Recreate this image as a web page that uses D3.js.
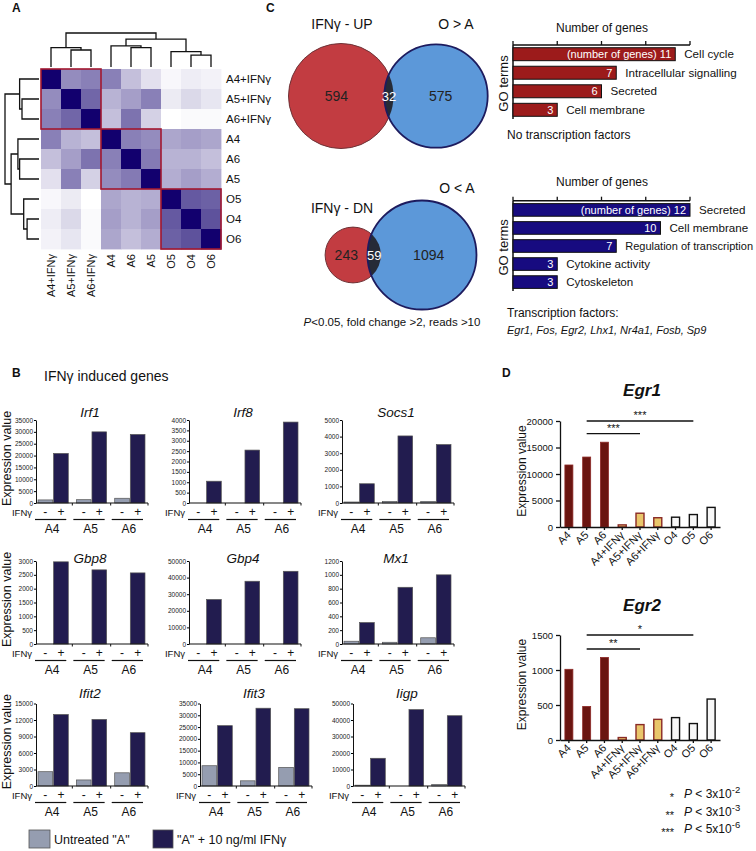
<!DOCTYPE html>
<html><head><meta charset="utf-8">
<script src="https://cdn.jsdelivr.net/npm/d3@7"></script>
<style>body{margin:0;background:#fff}svg{display:block;font-family:"Liberation Sans",Arial,Helvetica,sans-serif}</style>
</head><body><svg id="c" width="756" height="851"></svg>
<script>
// ---------------- DATA ----------------
const heatLabels = ["A4+IFNγ","A5+IFNγ","A6+IFNγ","A4","A6","A5","O5","O4","O6"];
const heatValues = [
 [1.00,0.45,0.50,0.50,0.25,0.12,0.03,0.07,0.05],
 [0.45,1.00,0.60,0.30,0.38,0.50,0.08,0.15,0.10],
 [0.50,0.60,1.00,0.25,0.55,0.18,0.00,0.02,0.02],
 [0.50,0.30,0.25,1.00,0.50,0.45,0.35,0.38,0.35],
 [0.25,0.38,0.55,0.50,1.00,0.52,0.30,0.30,0.25],
 [0.12,0.50,0.18,0.45,0.52,1.00,0.32,0.38,0.32],
 [0.03,0.08,0.00,0.35,0.30,0.32,1.00,0.65,0.62],
 [0.07,0.15,0.02,0.38,0.30,0.38,0.65,1.00,0.68],
 [0.05,0.10,0.02,0.35,0.25,0.32,0.62,0.68,1.00]];
const heatClusters = [[0,2],[3,5],[6,8]];
const dendroTree = {h:1.0, children:[
  {h:0.57, children:[{leaf:0},{h:0.50, children:[{leaf:1},{leaf:2}]}]},
  {h:0.82, children:[
    {h:0.62, children:[{leaf:3},{h:0.57, children:[{leaf:4},{leaf:5}]}]},
    {h:0.45, children:[{leaf:6},{h:0.35, children:[{leaf:7},{leaf:8}]}]}]}]};

const vennUpLabels = ["IFNγ - UP","O > A"];
const vennUpCounts = [594,32,575];
const vennDnLabels = ["IFNγ - DN","O < A"];
const vennDnCounts = [243,59,1094];
const goTicks = [0,3,6,9,12];
const goUpTerms = ["Cell cycle","Intracellular signalling","Secreted","Cell membrane"];
const goUpCounts = [11,7,6,3];
const goDnTerms = ["Secreted","Cell membrane","Regulation of transcription","Cytokine activity","Cytoskeleton"];
const goDnCounts = [12,10,7,3,3];
const tfGenes = ["Egr1","Fos","Egr2","Lhx1","Nr4a1","Fosb","Sp9"];

const bGenes = ["Irf1","Irf8","Socs1","Gbp8","Gbp4","Mx1","Ifit2","Ifit3","Iigp"];
const bMax  = [35000,4000,5000,3000,50000,1200,15000,35000,50000];
const bStep = [5000,500,1000,500,10000,200,3000,5000,10000];
const bSamples = ["A4","A5","A6"];
const bUntreated = [[1300,1400,2000],[0,0,0],[60,90,90],[0,0,0],[0,0,0],[40,25,90],[2600,1100,2400],[8600,2200,7900],[500,0,900]];
const bTreated = [[20900,30000,28900],[1050,2550,3900],[1160,4040,3520],[2970,2680,2570],[26800,37800,43800],[310,820,1000],[13000,12100,9700],[25600,33000,32800],[16800,46300,42600]];

const egrCats = ["A4","A5","A6","A4+IFNγ","A5+IFNγ","A6+IFNγ","O4","O5","O6"];
const egrGroups = ["A","A","A","I","I","I","O","O","O"];
const egr1Vals = [11700,13200,16000,400,2600,1750,1850,2350,3700];
const egr2Vals = [1010,480,1180,35,220,295,320,235,585];
const egr1Ticks = [0,5000,10000,15000,20000];
const egr2Ticks = [0,500,1000,1500];
const egr1Sig = [["A5","O5",20000,"***"],["A5","A5+IFNγ",17600,"***"]];
const egr2Sig = [["A5","O5",1500,"*"],["A5","A5+IFNγ",1300,"**"]];
const pStars = ["*","**","***"];
const pBase = ["3x10","3x10","5x10"];
const pExp = ["-2","-3","-6"];

// ---------------- DRAW ----------------
const svg = d3.select("#c");
svg.append("rect").attr("width",756).attr("height",851).attr("fill","#fff");
function T(g,x,y,s,o={}){
  const t=g.append("text").attr("x",x).attr("y",y).text(s)
   .attr("font-size",o.size||12).attr("fill",o.fill||"#111")
   .attr("text-anchor",o.anchor||"start");
  if(o.weight) t.attr("font-weight",o.weight);
  if(o.style) t.attr("font-style",o.style);
  if(o.dy) t.attr("dy",o.dy);
  if(o.transform) t.attr("transform",o.transform);
  return t;
}
// panel letters
T(svg,12,12,"A",{size:12,weight:"bold"});
T(svg,266,12,"C",{size:12,weight:"bold"});
T(svg,12,377,"B",{size:12,weight:"bold"});
T(svg,502,377,"D",{size:12,weight:"bold"});

// ---- Panel A heatmap ----
const gA = svg.append("g");
const hx = d3.scaleBand().domain(d3.range(9)).range([41,221]);
const hy = d3.scaleBand().domain(d3.range(9)).range([69,249]);
const hColor = d3.scaleLinear().domain([0,1]).range(["#ffffff","#12006e"]);
heatValues.forEach((row,i)=>row.forEach((v,j)=>{
  gA.append("rect").attr("x",hx(j)).attr("y",hy(i))
    .attr("width",hx.bandwidth()+0.4).attr("height",hy.bandwidth()+0.4).attr("fill",hColor(v));
}));
heatClusters.forEach(([a,b])=>{
  gA.append("rect").attr("x",hx(a)).attr("y",hy(a))
   .attr("width",hx(b)+hx.bandwidth()-hx(a)).attr("height",hy(b)+hy.bandwidth()-hy(a))
   .attr("fill","none").attr("stroke","#a3172f").attr("stroke-width",1.6);
});
heatLabels.forEach((l,i)=>{
  T(gA,226,hy(i)+hy.bandwidth()/2,l,{size:11.5,dy:"0.35em"});
  T(gA,0,0,l,{size:11,anchor:"end",dy:"0.35em",transform:`translate(${hx(i)+hx.bandwidth()/2},254) rotate(-90)`});
});
// dendrograms
const root = d3.hierarchy(dendroTree);
root.eachAfter(n=>{
  if(!n.children){n.pos=n.data.leaf;n.hh=0;}
  else{n.pos=(n.children[0].pos+n.children[n.children.length-1].pos)/2;n.hh=n.data.h;}
});
const pX = p=>hx(0)+hx.step()*(p+0.5);
const pY = p=>hy(0)+hy.step()*(p+0.5);
const topH = d3.scaleLinear().domain([0,1]).range([67,33]);
const leftH = d3.scaleLinear().domain([0,1]).range([39,5]);
root.each(n=>{
  if(!n.children) return;
  const [c0,c1]=n.children;
  gA.append("path").attr("d",`M${pX(c0.pos)},${topH(c0.hh)}V${topH(n.hh)}H${pX(c1.pos)}V${topH(c1.hh)}`)
    .attr("fill","none").attr("stroke","#111").attr("stroke-width",1.3);
  gA.append("path").attr("d",`M${leftH(c0.hh)},${pY(c0.pos)}H${leftH(n.hh)}V${pY(c1.pos)}H${leftH(c1.hh)}`)
    .attr("fill","none").attr("stroke","#111").attr("stroke-width",1.3);
});

// ---- Panel C venns ----
function venn(counts,c1,c2,cy,rs,key){
  const g=svg.append("g");
  const r1=rs(counts[0]+counts[1]), r2=rs(counts[1]+counts[2]);
  const id="clip"+key;
  g.append("clipPath").attr("id",id).append("circle").attr("cx",c2).attr("cy",cy).attr("r",r2);
  g.append("circle").attr("cx",c1).attr("cy",cy).attr("r",r1).attr("fill","#c23c41").attr("stroke","#6e3236").attr("stroke-width",1);
  g.append("circle").attr("cx",c2).attr("cy",cy).attr("r",r2).attr("fill","#5c98d9");
  g.append("circle").attr("cx",c1).attr("cy",cy).attr("r",r1).attr("fill","#262b37").attr("clip-path",`url(#${id})`);
  g.append("circle").attr("cx",c2).attr("cy",cy).attr("r",r2).attr("fill","none").attr("stroke","#1d1b5e").attr("stroke-width",1.8);
  const lx=(c1-r1+c2-r2)/2, mx=(c2-r2+c1+r1)/2, rx=(c1+r1+c2+r2)/2;
  T(g,lx,cy+5,counts[0],{size:14,anchor:"middle",fill:"#222"});
  T(g,mx,cy+5,counts[1],{size:13,anchor:"middle",fill:"#fff"});
  T(g,rx,cy+5,counts[2],{size:14,anchor:"middle",fill:"#222"});
}
venn(vennUpCounts,341,436,96,d3.scaleSqrt().domain([0,626]).range([0,52.5]),0);
T(svg,342,29,vennUpLabels[0],{size:14,anchor:"middle"});
T(svg,456,29,vennUpLabels[1],{size:14,anchor:"middle"});
venn(vennDnCounts,353,422,255,d3.scaleSqrt().domain([0,1153]).range([0,54.5]),1);
T(svg,342,213,vennDnLabels[0],{size:14,anchor:"middle"});
T(svg,457,193,vennDnLabels[1],{size:14,anchor:"middle"});
const pl=T(svg,392,326,"",{size:11.5,anchor:"middle"});
pl.append("tspan").attr("font-style","italic").text("P");
pl.append("tspan").text("<0.05, fold change >2, reads >10");

// ---- Panel C GO bars ----
const goX = d3.scaleLinear().domain([0,12]).range([513,690]);
function goChart(terms,counts,axisY,r0,r1,fill,titleY){
  const g=svg.append("g");
  const yb=d3.scaleBand().domain(terms).range([r0,r1]).paddingInner(0.3).paddingOuter(0.2);
  T(g,602,titleY,"Number of genes",{size:12,anchor:"middle"});
  g.append("line").attr("x1",goX(0)).attr("x2",goX(12)).attr("y1",axisY).attr("y2",axisY).attr("stroke","#111").attr("stroke-width",1.5);
  goTicks.forEach(t=>g.append("line").attr("x1",goX(t)).attr("x2",goX(t)).attr("y1",axisY).attr("y2",axisY-4).attr("stroke","#111").attr("stroke-width",1.3));
  g.append("line").attr("x1",goX(0)).attr("x2",goX(0)).attr("y1",axisY).attr("y2",r1-1).attr("stroke","#111").attr("stroke-width",1.5);
  terms.forEach((t,i)=>{
    const y=yb(t), v=counts[i];
    g.append("rect").attr("x",goX(0)).attr("y",y).attr("width",goX(v)-goX(0)).attr("height",yb.bandwidth())
     .attr("fill",fill).attr("stroke","#111").attr("stroke-width",1);
    T(g,goX(v)-4,y+yb.bandwidth()/2,(i===0?"(number of genes) ":"")+v,{size:11,anchor:"end",fill:"#fff",dy:"0.36em"});
    const lx=goX(v)+9;
    const lab=T(g,lx,y+yb.bandwidth()/2,t,{size:11.6,dy:"0.36em"});
    const w=lab.node().getComputedTextLength();
    if(lx+w>753) lab.attr("font-size",11.6*(753-lx)/w);
  });
  T(g,0,0,"GO terms",{size:13,anchor:"middle",transform:`translate(508,${(axisY+r1)/2+1}) rotate(-90)`});
}
goChart(goUpTerms,goUpCounts,45,44,120,"#9c1b1b",32);
T(svg,507,139,"No transcription factors",{size:12});
goChart(goDnTerms,goDnCounts,200.7,200,292,"#170b80",186);
T(svg,507,317,"Transcription factors:",{size:12});
T(svg,507,334,tfGenes.join(", "),{size:11,style:"italic"});

// ---- Panel B ----
const bPanelX=[36,189,342,36,189,342,36,200,353];
const bTop=[420,561,703.5], bBot=[503,644,786], bTitleY=[417,563,698];
const bW=112;
T(svg,44,381,"IFNγ induced genes",{size:14});
bGenes.forEach((gene,k)=>{
  const row=Math.floor(k/3), col=k%3, x0=bPanelX[k], top=bTop[row], bot=bBot[row];
  const g=svg.append("g");
  const y=d3.scaleLinear().domain([0,bMax[k]]).range([bot,top]);
  const gx=d3.scaleBand().domain(bSamples).range([x0+2,x0+109]).paddingInner(0.21);
  const ix=d3.scaleBand().domain(["-","+"]).range([0,gx.bandwidth()]).paddingInner(0.06);
  bSamples.forEach((s,j)=>{
    [["-",bUntreated[k][j],"#959db0"],["+",bTreated[k][j],"#221c4f"]].forEach(([c,v,f])=>{
      if(v<=0) return;
      g.append("rect").attr("x",gx(s)+ix(c)).attr("y",y(v)).attr("width",ix.bandwidth()).attr("height",bot-y(v))
       .attr("fill",f).attr("stroke","#555").attr("stroke-width",0.7);
    });
  });
  const ax=g.append("g").attr("transform",`translate(${x0},0)`)
    .call(d3.axisLeft(y).tickValues(d3.range(0,bMax[k]+1,bStep[k])).tickSize(2).tickSizeOuter(0).tickFormat(d3.format("d")));
  ax.selectAll("text").attr("font-size",6.5).attr("font-family","Liberation Sans, Arial").attr("fill","#222").attr("x",-3);
  ax.select(".domain").attr("stroke","#111");
  g.append("line").attr("x1",x0).attr("x2",x0+bW).attr("y1",bot).attr("y2",bot).attr("stroke","#111").attr("stroke-width",1.2);
  const gap=gx.step()-gx.bandwidth();
  bSamples.forEach(s=>{
    const bx=Math.min(gx(s)+gx.bandwidth()+gap/2,x0+bW);
    g.append("line").attr("x1",bx).attr("x2",bx).attr("y1",bot).attr("y2",bot+2.5).attr("stroke","#111");
    T(g,gx(s)+ix("-")+ix.bandwidth()/2,bot+13,"-",{size:12,anchor:"middle"});
    T(g,gx(s)+ix("+")+ix.bandwidth()/2,bot+13,"+",{size:12,anchor:"middle"});
    g.append("line").attr("x1",gx(s)-3).attr("x2",gx(s)+gx.bandwidth()-2).attr("y1",bot+16.5).attr("y2",bot+16.5).attr("stroke","#111").attr("stroke-width",1.2);
    T(g,gx(s)+gx.bandwidth()/2-1,bot+30,s,{size:12,anchor:"middle"});
  });
  T(g,x0-4,bot+13,"IFNγ",{size:9.5,anchor:"end"});
  T(g,x0+bW/2-2,bTitleY[row],gene,{size:13.5,anchor:"middle",style:"italic"});
  if(col===0) T(g,0,0,"Expression value",{size:12.5,anchor:"middle",transform:`translate(11,${(top+bot)/2-3}) rotate(-90)`});
});
// legend B
svg.append("rect").attr("x",29).attr("y",830).attr("width",21).attr("height",18).attr("fill","#959db0").attr("stroke","#555").attr("stroke-width",0.8);
T(svg,54,844,'Untreated "A"',{size:12.5});
svg.append("rect").attr("x",153).attr("y",830).attr("width",20).attr("height",18).attr("fill","#221c4f").attr("stroke","#555").attr("stroke-width",0.8);
T(svg,177,844,'"A" + 10 ng/ml IFNγ',{size:12.5});

// ---- Panel D ----
const dX=d3.scaleBand().domain(egrCats).range([560,720]).paddingInner(0.55).paddingOuter(0.275);
const dFill={A:"#6a1510",I:"#e9c66b",O:"#f7f7f7"};
const dStroke={A:"#8e2a27",I:"#8a2a25",O:"#111"};
function egrChart(title,vals,ticks,titleY,top,bot,sig){
  const g=svg.append("g");
  const y=d3.scaleLinear().domain([0,ticks[ticks.length-1]]).range([bot,top]);
  T(g,642,titleY,title,{size:17,anchor:"middle",weight:"bold",style:"italic"});
  egrCats.forEach((c,i)=>{
    const grp=egrGroups[i];
    g.append("rect").attr("x",dX(c)).attr("y",y(vals[i])).attr("width",dX.bandwidth()).attr("height",bot-y(vals[i]))
     .attr("fill",dFill[grp]).attr("stroke",dStroke[grp]).attr("stroke-width",grp==="A"?0.8:1.4);
  });
  const ax=g.append("g").attr("transform","translate(560,0)").call(d3.axisLeft(y).tickValues(ticks).tickSize(4).tickSizeOuter(0).tickFormat(d3.format("d")));
  ax.selectAll("text").attr("font-size",9.5).attr("font-family","Liberation Sans, Arial").attr("fill","#111");
  ax.selectAll("line,path").attr("stroke","#111").attr("stroke-width",1.3);
  const bx=g.append("g").attr("transform",`translate(0,${bot})`).call(d3.axisBottom(dX).tickSize(3).tickSizeOuter(0).tickFormat(""));
  bx.selectAll("line,path").attr("stroke","#111").attr("stroke-width",1.3);
  egrCats.forEach(c=>{
    T(g,0,0,c,{size:11,anchor:"end",dy:"0.35em",transform:`translate(${dX(c)+dX.bandwidth()/2},${bot+6}) rotate(-45)`});
  });
  sig.forEach(([a,b,v,s])=>{
    const x1=dX(a)+dX.bandwidth()/2, x2=dX(b)+dX.bandwidth()/2;
    g.append("line").attr("x1",x1).attr("x2",x2).attr("y1",y(v)).attr("y2",y(v)).attr("stroke","#111").attr("stroke-width",1.3);
    T(g,(x1+x2)/2,y(v)-2,s,{size:11,anchor:"middle"});
  });
  T(g,0,0,"Expression value",{size:12,anchor:"middle",transform:`translate(526,${(top+bot)/2-3}) rotate(-90)`});
}
egrChart("Egr1",egr1Vals,egr1Ticks,396,421,527,egr1Sig);
egrChart("Egr2",egr2Vals,egr2Ticks,611,635,740,egr2Sig);
pStars.forEach((s,i)=>{
  const yy=798+i*17.5;
  T(svg,674,yy+3,s,{size:11,anchor:"end"});
  const t=T(svg,684,yy,"",{size:12});
  t.append("tspan").attr("font-style","italic").text("P");
  t.append("tspan").text(" < "+pBase[i]);
  t.append("tspan").attr("dy",-5).attr("font-size",9.5).text(pExp[i]);
});
</script></body></html>
